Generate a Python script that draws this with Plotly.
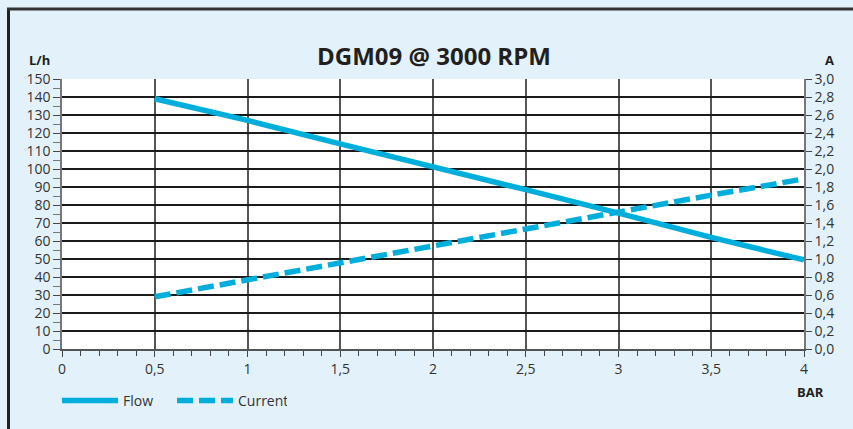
import plotly.graph_objects as go

pressure_bar = [0.5, 1.0, 1.5, 2.0, 2.5, 3.0, 3.5, 4.0]
flow_lh = [139, 127, 114, 101.5, 88.5, 75.5, 62, 49.5]
current_a = [0.58, 0.77, 0.95, 1.14, 1.33, 1.53, 1.71, 1.89]

x_ticks = [0, 0.5, 1, 1.5, 2, 2.5, 3, 3.5, 4]
x_ticklabels = ["0", "0,5", "1", "1,5", "2", "2,5", "3", "3,5", "4"]
y_ticks = list(range(0, 151, 10))
y2_ticks = [0, 0.2, 0.4, 0.6, 0.8, 1.0, 1.2, 1.4, 1.6, 1.8, 2.0, 2.2, 2.4, 2.6, 2.8, 3.0]
y2_ticklabels = ["0,0", "0,2", "0,4", "0,6", "0,8", "1,0", "1,2", "1,4", "1,6", "1,8",
                 "2,0", "2,2", "2,4", "2,6", "2,8", "3,0"]

LINE_COLOR = "#00AEDB"
BG = "#E3F2FA"
FONT = "Open Sans"
TXT = "#231f20"

W, H = 853, 429
# plot area in pixels: x 62..804, y 79..349
L, R, T, B = 62, 804, 79, 349

def px(xp):
    return (xp - L) / (R - L)

def py(yp):
    return (B - yp) / (B - T)

fig = go.Figure()
fig.add_trace(go.Scatter(x=pressure_bar, y=flow_lh, mode="lines", name="Flow",
                         line=dict(color=LINE_COLOR, width=5.5), yaxis="y"))
fig.add_trace(go.Scatter(x=pressure_bar, y=current_a, mode="lines", name="Current",
                         line=dict(color=LINE_COLOR, width=5.5, dash="16px,6px"), yaxis="y2"))

fig.update_layout(
    width=W, height=H,
    margin=dict(l=L, r=W - R, t=T, b=H - B),
    paper_bgcolor=BG, plot_bgcolor="white",
    font=dict(family=FONT, size=14, color="#333"),
    showlegend=True,
    legend=dict(orientation="h", x=px(57), xanchor="left", y=py(401), yanchor="middle",
                bgcolor="rgba(0,0,0,0)", itemwidth=56, entrywidth=44, entrywidthmode="pixels",
                font=dict(family=FONT, size=14, color="#333"), tracegroupgap=0),
    xaxis=dict(range=[0, 4], tickvals=x_ticks, ticktext=x_ticklabels,
               showgrid=True, gridcolor="#555", gridwidth=1.5,
               zeroline=False, showline=True, linecolor="#555", linewidth=1.5,
               ticks="outside", ticklen=6, tickcolor="#444",
               minor=dict(dtick=0.1, ticks="outside", ticklen=5, tickcolor="#444", showgrid=False),
               tickfont=dict(size=14, color="#333"), fixedrange=True),
    yaxis=dict(range=[0, 150], tickvals=y_ticks,
               showgrid=True, gridcolor="#1a1a1a", gridwidth=2,
               zeroline=False, showline=True, linecolor="#777", linewidth=1.5,
               ticks="outside", ticklen=7, tickcolor="#444",
               minor=dict(dtick=5, ticks="outside", ticklen=7, tickcolor="#777", showgrid=False),
               tickfont=dict(size=14, color="#333"), fixedrange=True),
    yaxis2=dict(range=[0, 3], tickvals=y2_ticks, ticktext=y2_ticklabels,
                overlaying="y", side="right", showgrid=False, zeroline=False,
                showline=True, linecolor="#777", linewidth=1.5,
                ticks="outside", ticklen=6, tickcolor="#444",
                tickfont=dict(size=14, color="#333"), fixedrange=True),
    shapes=[
        dict(type="line", xref="paper", yref="paper", x0=px(8.5), x1=px(8.5), y0=py(8), y1=py(440),
             line=dict(color="#222", width=3)),
        dict(type="line", xref="paper", yref="paper", x0=px(7), x1=px(860), y0=py(9), y1=py(9),
             line=dict(color="#333", width=3)),
    ],
    annotations=[
        dict(text="<b>DGM09 @ 3000 RPM</b>", xref="paper", yref="paper", x=px(434), y=py(55),
             xanchor="center", yanchor="middle", showarrow=False,
             font=dict(family=FONT, size=24, color=TXT)),
        dict(text="<b>L/h</b>", xref="paper", yref="paper", x=px(27), y=py(60),
             xanchor="left", yanchor="middle", showarrow=False,
             font=dict(family=FONT, size=13, color=TXT)),
        dict(text="<b>A</b>", xref="paper", yref="paper", x=px(829), y=py(60),
             xanchor="center", yanchor="middle", showarrow=False,
             font=dict(family=FONT, size=13, color=TXT)),
        dict(text="<b>BAR</b>", xref="paper", yref="paper", x=px(810), y=py(392),
             xanchor="center", yanchor="middle", showarrow=False,
             font=dict(family=FONT, size=13, color=TXT)),
    ],
)

fig.write_html("out.html", config={"displayModeBar": False},
               post_script="document.body.style.margin='0';document.body.style.overflow='hidden';")
